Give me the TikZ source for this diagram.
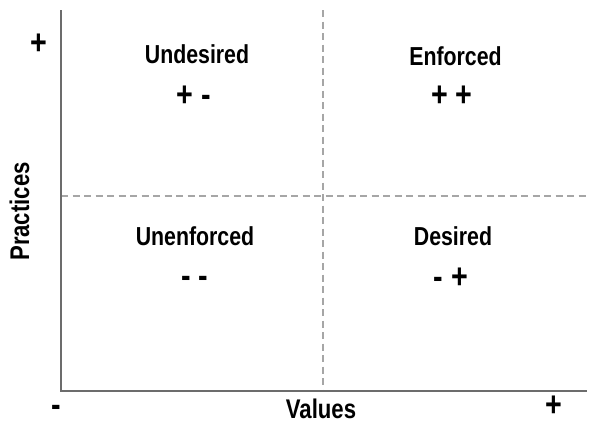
\documentclass[tikz,border=0pt]{standalone}
\usepackage{fontspec}
\setmainfont[FakeStretch=0.82]{Liberation Sans}
\begin{document}
\begin{tikzpicture}[x=1pt,y=-1pt,
  axisline/.style={draw=gray!85!black, line width=2.8pt},
  divider/.style={draw=gray!70, line width=1.2pt, dash pattern=on 7pt off 4.5pt},
  quad/.style={font=\bfseries\fontsize{26}{30}\selectfont, inner sep=0pt, anchor=base},
  sign/.style={font=\bfseries\fontsize{35}{38}\selectfont, inner sep=0pt, anchor=base},
  axlabel/.style={font=\bfseries\fontsize{27}{30}\selectfont, inner sep=0pt, anchor=base}]
  \useasboundingbox (0,0) rectangle (592,423);
  % axes and quadrant dividers
  \coordinate (top) at (61,10);
  \coordinate (origin) at (61,391);
  \coordinate (right) at (587,391);
  \coordinate (midtop) at (323,10);
  \coordinate (midbot) at (323,391);
  \coordinate (midleft) at (61,196);
  \coordinate (midright) at (587,196);
  \draw[divider] (midtop) -- (midbot);
  \draw[divider] (midleft) -- (midright);
  \draw[axisline] (top) -- (origin) -- (right);
  % quadrant labels
  \node[quad] (und) at (197,63.5) {Undesired};
  \node[sign] (undS) at (194,106) {+ -};
  \node[quad] (enf) at (455.5,65) {Enforced};
  \node[sign] (enfS) at (452,106.5) {+ +};
  \node[quad] (unenf) at (195,245) {Unenforced};
  \node[sign] (unenfS) at (195,287) {- -};
  \node[quad] (des) at (453,245) {Desired};
  \node[sign] (desS) at (451,288) {- +};
  % axis labels
  \node[sign] (yplus) at (38.5,54) {+};
  \node[sign] (xminus) at (56,416.5) {-};
  \node[sign, text depth=0pt] (xplus) at (554,416) {+};
  \node[axlabel] (vals) at (321,418) {Values};
  \node[axlabel, rotate=90] (prac) at (29,211.5) {Practices};
\end{tikzpicture}
\end{document}
